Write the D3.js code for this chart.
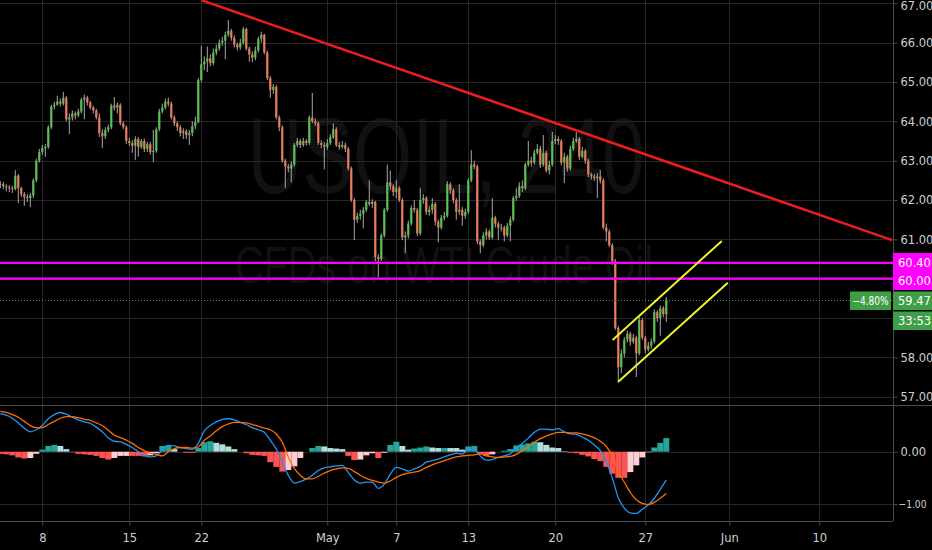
<!DOCTYPE html>
<html><head><meta charset="utf-8">
<script src="https://cdn.jsdelivr.net/npm/d3@7"></script>
<style>html,body{margin:0;padding:0;background:#000;overflow:hidden}</style>
</head><body>
<svg id="c" width="932" height="550"></svg>
<script>
// ---------- DATA ----------
const symbolText = "USOIL, 240";
const descText = "CFDs on WTI Crude Oil";
const firstOpen = 62.38;
const closes = [
62.40,62.35,62.32,62.30,62.28,62.62,62.30,62.15,62.08,62.05,
62.12,62.50,63.00,63.22,63.32,63.35,63.85,64.38,64.42,64.50,
64.45,64.60,64.05,64.10,64.20,64.15,64.25,64.55,64.60,64.48,
64.35,64.28,64.10,63.70,63.62,63.78,63.85,64.40,64.35,64.42,
63.95,63.85,63.50,63.45,63.38,63.55,63.35,63.50,63.30,63.42,
63.22,63.25,63.80,64.25,64.35,64.50,64.45,64.10,63.95,63.85,
63.70,63.75,63.65,63.70,63.88,63.98,65.05,65.45,65.52,65.60,
65.48,65.75,65.85,66.00,66.05,66.20,66.30,66.12,65.95,65.88,
66.00,66.35,65.85,65.70,65.62,65.80,66.10,66.20,65.75,65.10,
64.80,64.88,64.10,63.85,63.00,62.85,62.80,62.90,63.40,63.50,
63.40,63.50,63.45,64.10,64.00,63.95,63.45,63.40,63.35,63.45,
63.60,63.80,63.40,63.35,63.40,63.30,62.80,62.00,61.50,61.60,
61.65,61.75,61.95,61.90,61.95,60.55,60.50,61.10,61.75,62.45,
62.35,62.20,62.30,62.00,61.05,61.10,61.40,61.80,61.75,61.15,
62.00,62.05,61.70,61.75,61.90,61.45,61.30,61.55,61.60,62.40,
62.25,62.00,61.70,61.75,61.60,61.70,62.50,62.90,62.85,60.95,
60.85,61.10,61.20,61.05,61.55,61.40,61.30,61.30,61.10,61.35,
61.50,62.05,62.10,62.35,62.30,62.90,63.00,62.95,63.20,63.30,
62.90,63.20,62.75,62.90,63.50,63.55,63.50,62.95,63.10,62.80,
63.30,63.50,63.55,63.10,63.25,63.00,62.65,62.60,62.55,62.60,
62.50,61.30,61.20,60.85,60.45,58.75,57.75,58.10,58.45,58.60,
58.40,58.50,58.10,58.95,58.50,58.20,58.30,58.40,59.15,59.00,
59.25,59.10,59.47];
const highs = [
62.48,62.46,62.40,62.38,62.36,62.76,62.66,62.34,62.20,62.15,
62.18,62.55,63.05,63.30,63.40,63.42,63.90,64.42,64.50,64.65,
64.58,64.75,64.65,64.20,64.28,64.25,64.32,64.60,64.68,64.65,
64.52,64.40,64.32,64.20,63.80,63.85,63.92,64.45,64.62,64.48,
64.46,64.00,63.90,63.58,63.52,63.62,63.60,63.55,63.56,63.48,
63.48,63.78,63.85,64.32,64.45,64.58,64.60,64.50,64.15,64.00,
63.90,63.82,63.80,63.78,64.00,64.12,65.10,65.92,65.65,65.90,
65.70,65.85,65.95,66.08,66.15,66.28,66.58,66.35,66.18,66.00,
66.10,66.40,66.38,65.90,65.78,65.90,66.15,66.28,66.22,65.80,
65.15,64.95,64.92,64.15,63.90,63.05,62.92,62.98,63.45,63.58,
63.55,63.58,63.55,64.15,64.72,64.08,64.00,63.52,63.48,63.55,
63.68,63.95,63.85,63.48,63.50,63.46,63.35,62.85,62.05,61.68,
61.75,61.82,62.00,62.50,62.02,61.98,60.62,61.15,61.80,62.90,
62.75,62.40,62.50,62.35,62.05,61.20,61.48,61.86,62.00,61.80,
62.30,62.15,62.10,61.85,62.05,61.95,61.50,61.62,61.70,62.48,
62.45,62.30,62.05,62.40,61.82,61.78,62.55,63.27,63.00,62.90,
61.00,61.18,61.28,61.25,62.05,61.60,61.45,61.40,61.35,61.42,
61.58,62.10,62.30,62.45,62.50,62.95,63.50,63.10,63.28,63.42,
63.38,63.65,63.25,63.00,63.73,63.65,63.62,63.55,63.20,63.15,
63.38,63.58,63.73,63.60,63.35,63.30,63.05,62.70,62.66,62.68,
62.76,62.55,61.40,61.25,60.90,60.50,58.80,58.20,58.52,58.68,
58.65,58.60,58.55,59.03,59.00,58.55,58.40,58.48,59.22,59.20,
59.32,59.30,59.53];
const lows = [
62.30,62.28,62.22,62.20,62.18,62.24,61.92,62.08,61.85,61.95,
61.82,62.05,62.45,62.95,63.15,63.10,63.30,63.80,64.30,64.40,
64.38,64.40,64.00,63.68,64.02,64.05,64.10,64.20,64.05,64.40,
64.30,64.20,64.05,63.60,63.32,63.55,63.72,63.80,64.28,64.20,
63.90,63.80,63.42,63.38,63.20,63.02,63.10,63.30,63.22,63.22,
63.15,62.96,63.20,63.75,64.20,64.30,64.38,64.05,63.88,63.75,
63.62,63.55,63.55,63.40,63.62,63.80,63.95,65.00,65.30,65.25,
65.40,65.42,65.68,65.80,65.92,65.58,66.15,66.05,65.88,65.80,
65.82,65.95,65.80,65.52,65.50,65.55,65.75,66.00,65.70,65.05,
64.60,64.70,64.05,63.75,62.95,62.30,62.70,62.45,62.85,63.35,
63.32,63.35,63.38,63.40,63.95,63.88,63.40,63.32,62.78,63.28,
63.40,63.55,63.35,63.28,63.30,63.22,62.75,61.95,60.98,61.42,
61.50,61.28,61.70,61.85,61.80,60.45,60.04,60.45,61.05,61.70,
62.25,62.10,62.05,61.95,60.98,60.65,61.02,61.35,61.68,61.08,
61.10,61.90,61.62,61.60,61.65,61.35,60.92,61.25,61.48,61.55,
62.15,61.92,61.50,61.62,61.35,61.52,61.65,62.45,62.78,60.88,
60.65,60.80,61.00,60.98,61.00,61.30,60.98,61.20,60.95,61.05,
60.95,61.45,61.98,62.05,62.20,62.25,62.85,62.85,62.90,63.15,
62.82,62.85,62.70,62.65,62.85,63.42,63.40,62.88,62.43,62.72,
62.75,63.25,63.45,63.02,63.05,62.92,62.58,62.52,62.48,62.05,
62.42,61.25,60.95,60.80,60.35,58.70,57.35,57.60,58.00,58.38,
58.30,58.35,57.50,58.05,58.45,58.10,58.15,58.22,58.35,58.90,
58.55,59.02,58.90];
// MACD (12,26,9) read every 2nd bar
const macdStep = 2;
const macdLine = [
0.73,0.70,0.64,0.55,0.45,0.38,0.42,0.50,0.63,0.71,
0.75,0.72,0.66,0.61,0.57,0.54,0.47,0.38,0.26,0.20,
0.19,0.14,0.08,0.00,-0.07,-0.10,-0.08,0.03,0.12,0.11,
0.08,0.06,0.05,0.16,0.40,0.50,0.57,0.62,0.63,0.61,
0.56,0.52,0.46,0.42,0.37,0.22,0.05,-0.20,-0.45,-0.60,
-0.57,-0.52,-0.45,-0.36,-0.31,-0.29,-0.27,-0.26,-0.40,-0.54,
-0.60,-0.58,-0.58,-0.70,-0.62,-0.43,-0.30,-0.33,-0.37,-0.33,
-0.28,-0.20,-0.17,-0.14,-0.10,-0.06,-0.03,-0.04,0.03,0.05,
-0.08,-0.16,-0.15,-0.11,-0.08,-0.04,0.07,0.16,0.26,0.37,
0.43,0.43,0.42,0.44,0.38,0.34,0.33,0.28,0.22,0.13,
0.02,-0.19,-0.50,-0.88,-1.08,-1.17,-1.18,-1.10,-1.02,-0.89,
-0.72,-0.54];
const signalLine = [
0.77,0.75,0.71,0.66,0.58,0.50,0.46,0.46,0.52,0.58,
0.64,0.67,0.67,0.65,0.62,0.60,0.55,0.50,0.41,0.32,
0.27,0.22,0.16,0.08,0.02,-0.03,-0.05,-0.08,0.00,0.06,
0.08,0.08,0.07,0.09,0.22,0.30,0.40,0.48,0.53,0.56,
0.56,0.55,0.52,0.49,0.45,0.42,0.34,0.18,-0.10,-0.32,
-0.45,-0.52,-0.52,-0.47,-0.41,-0.36,-0.33,-0.31,-0.32,-0.38,
-0.45,-0.51,-0.55,-0.58,-0.60,-0.56,-0.49,-0.44,-0.41,-0.39,
-0.36,-0.30,-0.25,-0.21,-0.17,-0.13,-0.10,-0.08,-0.07,-0.06,
-0.04,-0.08,-0.10,-0.11,-0.10,-0.09,-0.05,0.02,0.10,0.18,
0.25,0.30,0.34,0.37,0.37,0.36,0.36,0.34,0.31,0.27,
0.20,0.10,-0.08,-0.38,-0.58,-0.78,-0.92,-0.99,-1.01,-0.97,
-0.89,-0.80];
const priceTicks = [57,58,59,60,61,62,63,64,65,66,67];
const coveredPriceLabels = [59,60];
const macdTicks = [0,-1];
const timeTickIdx = [14,43,67,109,132,156,185,215,243,273];
const timeTickLabels = ["8","15","22","May","7","13","20","27","Jun","10"];
const levels = [60.40, 60.00];
const lastPrice = 59.47;
const changeLabel = "\u22124.80%";
const countdown = "33:53";
const trendRed = [[67,67.08],[297.3,60.98]];
const channelUpper = [[204.1,58.44],[240.5,60.96]];
const channelLower = [[206.0,57.38],[242.5,59.90]];

// ---------- LAYOUT ----------
const W=932, H=550, plotR=893;
const pTop=0, pBot=405, mTop=406, mBot=521;
const svg = d3.select("#c");
const x = d3.scaleLinear().domain([-0.1, 297.57]).range([0, plotR]);
const y = d3.scaleLinear().domain([56.79, 67.084]).range([pBot, pTop]);
const ym = d3.scaleLinear().domain([-1.325, 0.874]).range([mBot, mTop]);
const FONT = "DejaVu Sans, sans-serif";
const txtCol = "#cfcfcf", gridCol = "#262626", sepCol = "#4a4a4a";

svg.append("rect").attr("width",W).attr("height",H).attr("fill","#000");
const defs = svg.append("defs");
defs.append("clipPath").attr("id","cp").append("rect").attr("x",0).attr("y",pTop).attr("width",plotR).attr("height",pBot-pTop);
defs.append("clipPath").attr("id","cm").append("rect").attr("x",0).attr("y",mTop).attr("width",plotR).attr("height",mBot-mTop);

// watermark
const wm = svg.append("g").attr("fill","#111111").attr("font-family","Liberation Sans, Arial, sans-serif").attr("text-anchor","middle");
wm.append("text").attr("x",446).attr("y",193).attr("font-size",108).attr("textLength",397).attr("lengthAdjust","spacingAndGlyphs").text(symbolText);
wm.append("text").attr("x",444).attr("y",283).attr("font-size",52).attr("textLength",418).attr("lengthAdjust","spacingAndGlyphs").text(descText);

// grid
const grid = svg.append("g").attr("stroke",gridCol).attr("stroke-width",1);
grid.selectAll(".v").data(timeTickIdx).join("line")
  .attr("x1",d=>Math.round(x(d))+0.5).attr("x2",d=>Math.round(x(d))+0.5).attr("y1",0).attr("y2",mBot);
grid.selectAll(".h").data(priceTicks).join("line")
  .attr("x1",0).attr("x2",plotR).attr("y1",d=>Math.round(y(d))+0.5).attr("y2",d=>Math.round(y(d))+0.5);
grid.selectAll(".hm").data(macdTicks).join("line")
  .attr("x1",0).attr("x2",plotR).attr("y1",d=>Math.round(ym(d))+0.5).attr("y2",d=>Math.round(ym(d))+0.5);

// candles
const bars = closes.map((c,i)=>({i, o: i? closes[i-1] : firstOpen, c, h: highs[i], l: lows[i]}));
const cg = svg.append("g").attr("clip-path","url(#cp)");
const upCol="#5cbf55", dnCol="#ec7a5c", wickCol="#a9a9a9";
cg.selectAll(".wk").data(bars).join("line")
  .attr("x1",d=>x(d.i)).attr("x2",d=>x(d.i)).attr("y1",d=>y(d.h)).attr("y2",d=>y(d.l))
  .attr("stroke",wickCol).attr("stroke-width",1);
cg.selectAll(".bd").data(bars).join("rect")
  .attr("x",d=>x(d.i)-1.1).attr("width",2.2)
  .attr("y",d=>y(Math.max(d.o,d.c)))
  .attr("height",d=>Math.max(1, Math.abs(y(d.o)-y(d.c))))
  .attr("fill",d=>d.c>=d.o?upCol:dnCol);

// levels
const lg = svg.append("g").attr("clip-path","url(#cp)");
lg.selectAll(".lv").data(levels).join("line")
  .attr("x1",0).attr("x2",plotR).attr("y1",d=>y(d)).attr("y2",d=>y(d))
  .attr("stroke","#ff00ff").attr("stroke-width",2.2);
lg.append("line").attr("x1",0).attr("x2",plotR).attr("y1",Math.round(y(lastPrice))+0.5).attr("y2",Math.round(y(lastPrice))+0.5)
  .attr("stroke","#3b9c44").attr("stroke-width",1).attr("stroke-dasharray","1,2");
const line2 = d3.line().x(d=>x(d[0])).y(d=>y(d[1]));
lg.append("path").attr("d",line2(trendRed)).attr("stroke","#ee1c1c").attr("stroke-width",2.5).attr("fill","none");
[channelUpper,channelLower].forEach(ch=>{
  lg.append("path").attr("d",line2(ch)).attr("stroke","#f2f22a").attr("stroke-width",2).attr("fill","none");
});

// MACD pane
const mg = svg.append("g").attr("clip-path","url(#cm)");
const hist = macdLine.map((m,k)=>({k, v: m - signalLine[k]}));
const histColor = (d,k)=>{
  const prev = k? hist[k-1].v : d.v;
  if (d.v >= 0) return prev < d.v ? "#26a69a" : "#b2dfdb";
  return prev < d.v ? "#ffcdd2" : "#ff5252";
};
mg.selectAll(".hb").data(hist).join("rect")
  .attr("x",d=>x(d.k*macdStep)-3).attr("width",6)
  .attr("y",d=>Math.min(ym(0),ym(d.v))).attr("height",d=>Math.abs(ym(d.v)-ym(0)))
  .attr("fill",(d,k)=>histColor(d,k));
const mline = d3.line().x((d,k)=>x(k*macdStep)).y(d=>ym(d)).curve(d3.curveMonotoneX);
mg.append("path").attr("d",mline(macdLine)).attr("stroke","#2196f3").attr("stroke-width",1.3).attr("fill","none");
mg.append("path").attr("d",mline(signalLine)).attr("stroke","#ff6d00").attr("stroke-width",1.3).attr("fill","none");

// separators
const sg = svg.append("g").attr("stroke",sepCol).attr("stroke-width",1);
sg.append("line").attr("x1",0).attr("x2",W).attr("y1",405.5).attr("y2",405.5);
sg.append("line").attr("x1",0).attr("x2",plotR).attr("y1",mBot+0.5).attr("y2",mBot+0.5);

// axes
const labelTicks = priceTicks.filter(t=>!coveredPriceLabels.includes(t));
const ay = svg.append("g").attr("transform",`translate(${plotR+0.5},0)`)
  .call(d3.axisRight(y).tickValues(labelTicks).tickFormat(d3.format(".2f")).tickSize(4).tickPadding(3));
const am = svg.append("g").attr("transform",`translate(${plotR+0.5},0)`)
  .call(d3.axisRight(ym).tickValues(macdTicks).tickFormat(d=>d3.format(".2f")(d).replace("-","\u2212")).tickSize(4).tickPadding(3));
const ax = svg.append("g").attr("transform",`translate(0,${mBot+0.5})`)
  .call(d3.axisBottom(x).tickValues(timeTickIdx).tickFormat((d,i)=>timeTickLabels[i]).tickSize(4).tickPadding(8));
[ay,am,ax].forEach(a=>{
  a.selectAll("text").attr("fill",txtCol).attr("font-family",FONT).attr("font-size",11.5);
  a.selectAll(".tick line").attr("stroke",sepCol);
  a.select(".domain").attr("stroke",sepCol);
});
ay.selectAll(".tick text").filter(d=>d===67).attr("dy","0.55em");
am.selectAll(".tick text").filter(d=>d<0).attr("font-size",10.5).attr("x",5)
  .attr("textLength",28).attr("lengthAdjust","spacingAndGlyphs");
ay.select(".domain").attr("d","M0,0V405");
am.select(".domain").attr("d",`M0,${mTop}V${mBot}`);
ax.select(".domain").attr("d",`M0,0H${plotR}`);

// price labels on axis
const lab = svg.append("g").attr("font-family",FONT).attr("font-size",11.5).attr("text-anchor","start");
const boxes = [
  {x:893, y0:253, y1:272, fill:"#ff00ff", t:d3.format(".2f")(levels[0])},
  {x:893, y0:271.5, y1:290, fill:"#ff00ff", t:d3.format(".2f")(levels[1])},
  {x:893, y0:291.5, y1:310, fill:"#3f9f47", t:d3.format(".2f")(lastPrice)},
  {x:893, y0:311.5, y1:330, fill:"#3f9f47", t:countdown}
];
boxes.forEach(b=>{
  lab.append("rect").attr("x",b.x).attr("y",b.y0).attr("width",W-b.x).attr("height",b.y1-b.y0).attr("fill",b.fill);
  lab.append("text").attr("x",b.x+5).attr("y",(b.y0+b.y1)/2).attr("dy","0.35em").attr("fill","#ffffff").text(b.t);
});
lab.append("rect").attr("x",850).attr("y",291.5).attr("width",41).attr("height",18.5).attr("fill","#3f9f47");
lab.append("text").attr("x",870.5).attr("y",300.75).attr("dy","0.35em").attr("text-anchor","middle")
  .attr("textLength",36).attr("lengthAdjust","spacingAndGlyphs").attr("fill","#ffffff").text(changeLabel);
</script>
</body></html>
